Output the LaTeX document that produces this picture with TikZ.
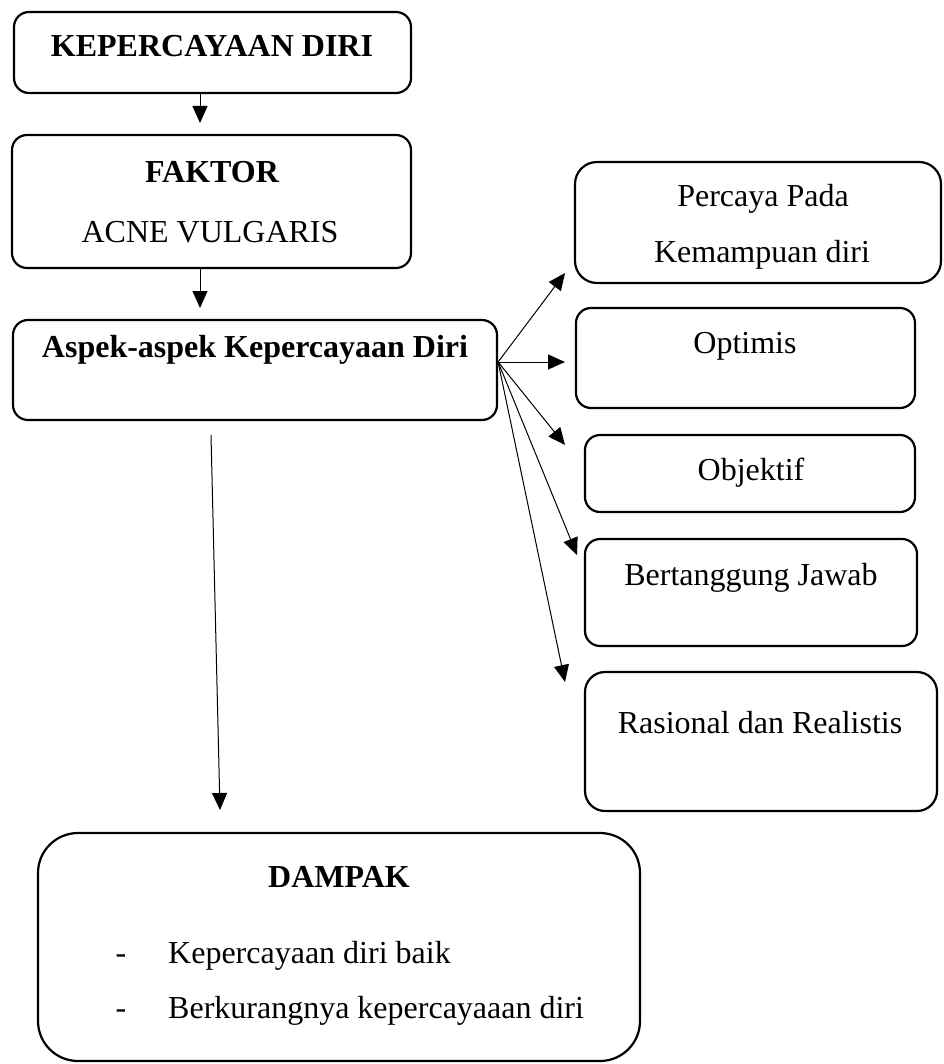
\documentclass[tikz,border=0pt]{standalone}
\usepackage{fontspec}
\setmainfont{Liberation Serif}
\usetikzlibrary{arrows.meta}

\begin{document}
\begin{tikzpicture}[x=1pt,y=-1pt,%%
  boxStyle/.style={draw,line width=2.2pt,rounded corners=15pt,inner sep=0pt},%%
  textStyle/.style={anchor=base,inner sep=0pt,font=\fontsize{32}{38}\selectfont},%%
  arrowStyle/.style={-{Triangle[length=17pt,width=15pt]},line width=1pt}%%
]
%%
\useasboundingbox (0,0) rectangle (943,1064);
%%
%% Draw the boxes of the left column.
\node[boxStyle,minimum width=397pt,minimum height=81pt] (kepercayaan) at (212.5,52.5) {};
\node[boxStyle,minimum width=399pt,minimum height=133pt] (faktor) at (211.5,201.5) {};
\node[boxStyle,minimum width=484pt,minimum height=100pt] (aspek) at (255,370) {};
\node[boxStyle,rounded corners=40pt,minimum width=602pt,minimum height=228pt] (dampak) at (339,947) {};
%% Draw the boxes of the right column.
\node[boxStyle,rounded corners=22pt,minimum width=366pt,minimum height=121pt] (percaya) at (758,222.5) {};
\node[boxStyle,minimum width=339pt,minimum height=100pt] (optimis) at (745.5,358) {};
\node[boxStyle,minimum width=330pt,minimum height=77pt] (objektif) at (750,473.5) {};
\node[boxStyle,minimum width=332pt,minimum height=107pt] (tanggung) at (751,592.5) {};
\node[boxStyle,rounded corners=20pt,minimum width=352pt,minimum height=139pt] (rasional) at (761,741.5) {};
%%
%% Texts of the boxes.
\node[textStyle] (kepercayaanText) at (212,57) {\bfseries KEPERCAYAAN DIRI};
\node[textStyle] (faktorText) at (212,183) {\bfseries FAKTOR};
\node[textStyle] (acneText) at (210,243) {ACNE VULGARIS};
\node[textStyle] (aspekText) at (255,357) {\bfseries Aspek-aspek Kepercayaan Diri};
\node[textStyle] (percayaText) at (763,207) {Percaya Pada};
\node[textStyle] (kemampuanText) at (762,263) {Kemampuan diri};
\node[textStyle] (optimisText) at (745,353) {Optimis};
\node[textStyle] (objektifText) at (751,480) {Objektif};
\node[textStyle] (tanggungText) at (751,585) {Bertanggung Jawab};
\node[textStyle] (rasionalText) at (760,733) {Rasional dan Realistis};
\node[textStyle] (dampakText) at (339,887) {\bfseries DAMPAK};
\node[textStyle] (dashOne) at (121,963) {-};
\node[textStyle,anchor=base west] (baikText) at (168,963) {Kepercayaan diri baik};
\node[textStyle] (dashTwo) at (121,1018) {-};
\node[textStyle,anchor=base west] (kurangText) at (168,1018) {Berkurangnya kepercayaaan diri};
%%
%% Arrow tips.
\coordinate (faktorTip) at (200,123);
\coordinate (aspekTip) at (200,308);
\coordinate (aspekOut) at ([yshift=8pt]aspek.east);
\coordinate (percayaTip) at (565,273);
\coordinate (optimisTip) at (565,362);
\coordinate (objektifTip) at (565,445);
\coordinate (tanggungTip) at (577,555);
\coordinate (rasionalTip) at (565,682);
\coordinate (dampakStart) at (211,435);
\coordinate (dampakTip) at (220,810);
%%
%% Draw the arrows.
\draw[arrowStyle] (kepercayaan.south -| faktorTip) -- (faktorTip);
\draw[arrowStyle] (faktor.south -| aspekTip) -- (aspekTip);
\foreach \tip in {percayaTip,optimisTip,objektifTip,tanggungTip,rasionalTip}
  \draw[arrowStyle] (aspekOut) -- (\tip);
\draw[arrowStyle] (dampakStart) -- (dampakTip);
\end{tikzpicture}
\end{document}
